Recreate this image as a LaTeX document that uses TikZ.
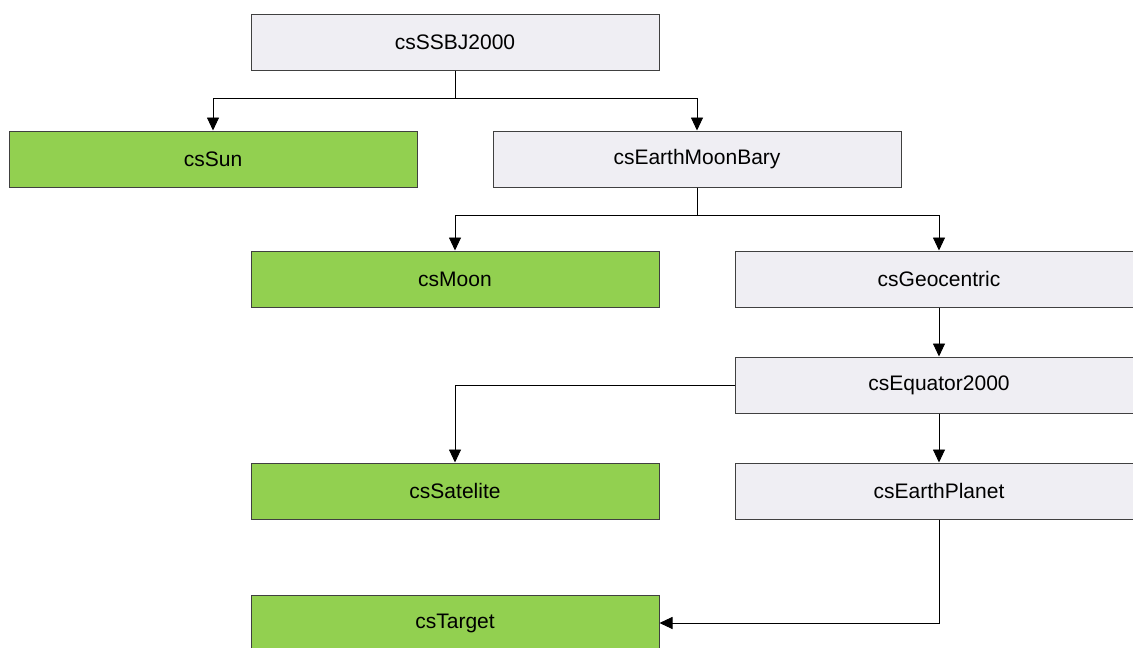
\documentclass[tikz,border=0pt]{standalone}
\usepackage{fontspec}
\setmainfont{Liberation Sans}
\usetikzlibrary{arrows.meta}
\definecolor{leafgreen}{HTML}{92D050}
\definecolor{framegray}{HTML}{EFEEF3}

\begin{document}
\begin{tikzpicture}[x=1pt, y=-1pt,
    csbox/.style={draw=black!75, line width=1pt, fill=framegray,
        minimum width=408pt, minimum height=56pt, inner sep=0pt,
        font=\fontsize{21}{25}\selectfont},
    csleaf/.style={csbox, fill=leafgreen},
    link/.style={draw=black, line width=0.9pt,
        -{Triangle[length=13pt,width=12pt]}}]
    \useasboundingbox (0,0) rectangle (1133,648);
    % frames
    \node[csbox]  (ssbj)    at (455, 42)  {csSSBJ2000};
    \node[csleaf] (sun)     at (213, 159) {csSun};
    \node[csbox]  (emb)     at (697, 159) {csEarthMoonBary};
    \node[csleaf] (moon)    at (455, 279) {csMoon};
    \node[csbox]  (geo)     at (939, 279) {csGeocentric};
    \node[csbox]  (equ)     at (939, 385) {csEquator2000};
    \node[csleaf] (sat)     at (455, 491) {csSatelite};
    \node[csbox]  (earthpl) at (939, 491) {csEarthPlanet};
    \node[csleaf] (target)  at (455, 623) {csTarget};
    % links
    \draw[link] (ssbj.south) -- ++(0,28) -| (sun.north);
    \draw[link] (ssbj.south) -- ++(0,28) -| (emb.north);
    \draw[link] (emb.south) -- ++(0,28) -| (moon.north);
    \draw[link] (emb.south) -- ++(0,28) -| (geo.north);
    \draw[link] (geo) -- (equ);
    \draw[link] (equ.west) -| (sat.north);
    \draw[link] (equ) -- (earthpl);
    \draw[link] (earthpl.south) |- (target.east);
\end{tikzpicture}
\end{document}
